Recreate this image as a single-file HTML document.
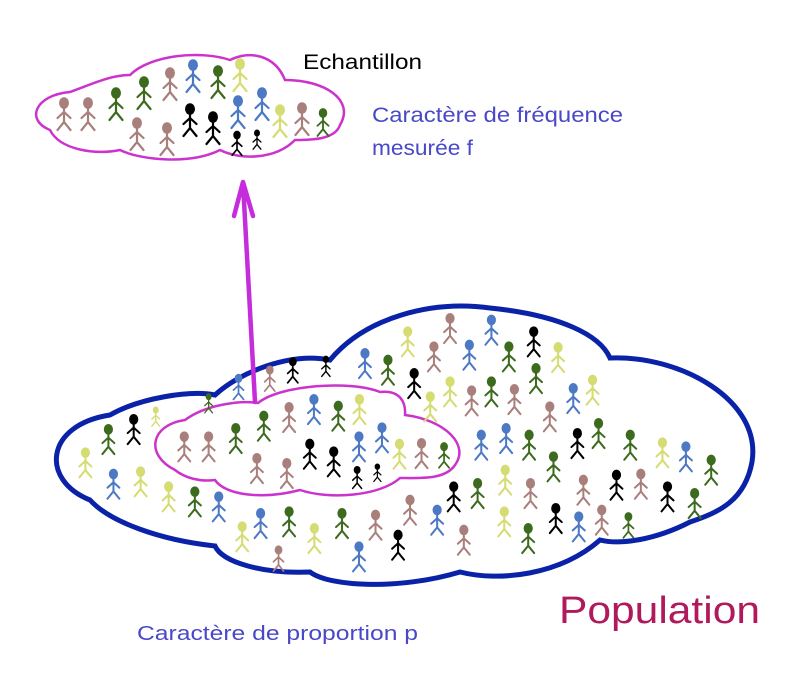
<!DOCTYPE html>
<html><head><meta charset="utf-8"><style>
html,body{margin:0;padding:0;background:#fff;width:800px;height:686px;overflow:hidden}
svg{display:block}
text{font-family:"Liberation Sans",sans-serif}
</style></head><body>
<svg width="800" height="686" viewBox="0 0 800 686" xmlns="http://www.w3.org/2000/svg">
<defs>
<g id="f" fill="currentColor" stroke="currentColor" stroke-width="2.2" stroke-linecap="round">
<ellipse cx="0" cy="0" rx="5" ry="5.8" stroke="none"/>
<path d="M0 4 L0 19 M-6.5 15 L0 9 L6.5 15 M-6.5 27 L0 19 L6.5 27" fill="none"/>
</g>
</defs>
<path d="M 90,500 C 40,480 45,425 110,415 C 140,398 190,390 215,395 C 240,372 290,352 330,360 C 365,318 430,300 490,308 C 560,315 600,335 610,358 C 680,355 762,400 752,462 C 745,500 720,512 690,522 C 655,540 620,545 600,540 C 560,575 500,582 460,572 C 400,590 330,587 310,572 C 262,574 222,562 215,546 C 160,540 110,522 90,500 Z" fill="#fff" stroke="#0a22a8" stroke-width="5"/>
<path d="M 175,470 C 145,455 150,425 185,420 C 205,405 240,400 258,403 C 280,385 350,380 380,392 C 400,390 406,402 405,415 C 445,420 470,445 455,465 C 445,480 420,478 400,478 C 380,496 330,500 300,490 C 262,500 225,495 215,480 C 200,482 185,478 175,470 Z" fill="none" stroke="#cc33cc" stroke-width="2.5"/>
<path d="M255 402 L243 183 M234 216 L243 182 L253 216" fill="none" stroke="#c42cdc" stroke-width="4.5" stroke-linecap="round" stroke-linejoin="round"/>
<path d="M 50,130 C 25,120 35,95 70,92 C 90,85 110,75 130,75 C 150,55 200,50 230,60 C 250,50 275,55 285,80 C 325,80 355,100 340,125 C 335,140 310,140 295,140 C 275,160 240,160 220,150 C 190,165 140,160 120,150 C 95,155 60,150 50,130 Z" fill="none" stroke="#cc33cc" stroke-width="2.5"/>
<g>
<use href="#f" style="color:#a97f7c" transform="translate(64,103)"/>
<use href="#f" style="color:#a97f7c" transform="translate(88,103)"/>
<use href="#f" style="color:#3d6b1e" transform="translate(116,93)"/>
<use href="#f" style="color:#3d6b1e" transform="translate(144,82)"/>
<use href="#f" style="color:#a97f7c" transform="translate(170,73)"/>
<use href="#f" style="color:#4d79c4" transform="translate(193,65)"/>
<use href="#f" style="color:#3d6b1e" transform="translate(218,71)"/>
<use href="#f" style="color:#d5dc72" transform="translate(240,64)"/>
<use href="#f" style="color:#a97f7c" transform="translate(137,123)"/>
<use href="#f" style="color:#a97f7c" transform="translate(167,128)"/>
<use href="#f" style="color:#000" transform="translate(190,109)"/>
<use href="#f" style="color:#000" transform="translate(213,117)"/>
<use href="#f" style="color:#4d79c4" transform="translate(238,101)"/>
<use href="#f" style="color:#4d79c4" transform="translate(262,93)"/>
<use href="#f" style="color:#d5dc72" transform="translate(280,110)"/>
<use href="#f" style="color:#a97f7c" transform="translate(302,108)"/>
<use href="#f" style="color:#3d6b1e" transform="translate(323,113) scale(0.85)"/>
<use href="#f" style="color:#000" transform="translate(237,135) scale(0.75)"/>
<use href="#f" style="color:#000" transform="translate(257,133) scale(0.6)"/>
</g>
<g transform="translate(50,300) scale(0.4598,0.3333)">
<use href="#f" style="color:#a97f7c" transform="translate(870,55) scale(2,2.75)"/>
<use href="#f" style="color:#4d79c4" transform="translate(960,60) scale(2,2.75)"/>
<use href="#f" style="color:#000" transform="translate(1052,95) scale(2,2.75)"/>
<use href="#f" style="color:#d5dc72" transform="translate(778,95) scale(2,2.75)"/>
<use href="#f" style="color:#d5dc72" transform="translate(1105,142) scale(2,2.75)"/>
<use href="#f" style="color:#a97f7c" transform="translate(835,140) scale(2,2.75)"/>
<use href="#f" style="color:#4d79c4" transform="translate(912,135) scale(2,2.75)"/>
<use href="#f" style="color:#3d6b1e" transform="translate(998,140) scale(2,2.75)"/>
<use href="#f" style="color:#4d79c4" transform="translate(685,160) scale(2,2.75)"/>
<use href="#f" style="color:#3d6b1e" transform="translate(735,180) scale(2,2.75)"/>
<use href="#f" style="color:#000" transform="translate(528,185) scale(1.7,2.35)"/>
<use href="#f" style="color:#000" transform="translate(600,178) scale(1.4,1.9)"/>
<use href="#f" style="color:#a97f7c" transform="translate(478,210) scale(1.7,2.35)"/>
<use href="#f" style="color:#4d79c4" transform="translate(410,235) scale(1.7,2.35)"/>
<use href="#f" style="color:#3d6b1e" transform="translate(1057,205) scale(2,2.75)"/>
<use href="#f" style="color:#000" transform="translate(792,220) scale(2,2.75)"/>
<use href="#f" style="color:#d5dc72" transform="translate(870,245) scale(2,2.75)"/>
<use href="#f" style="color:#3d6b1e" transform="translate(960,245) scale(2,2.75)"/>
<use href="#f" style="color:#d5dc72" transform="translate(1180,240) scale(2,2.75)"/>
<use href="#f" style="color:#4d79c4" transform="translate(1138,265) scale(2,2.75)"/>
<use href="#f" style="color:#a97f7c" transform="translate(917,272) scale(2,2.75)"/>
<use href="#f" style="color:#a97f7c" transform="translate(1010,268) scale(2,2.75)"/>
<use href="#f" style="color:#d5dc72" transform="translate(827,290) scale(2,2.75)"/>
<use href="#f" style="color:#a97f7c" transform="translate(1087,320) scale(2,2.75)"/>
<use href="#f" style="color:#3d6b1e" transform="translate(345,290) scale(1.3,1.8)"/>
<use href="#f" style="color:#d5dc72" transform="translate(230,330) scale(1.3,1.8)"/>
<use href="#f" style="color:#000" transform="translate(182,358) scale(2,2.75)"/>
<use href="#f" style="color:#3d6b1e" transform="translate(127,388) scale(2,2.75)"/>
<use href="#f" style="color:#d5dc72" transform="translate(77,458) scale(2,2.75)"/>
<use href="#f" style="color:#4d79c4" transform="translate(138,522) scale(2,2.75)"/>
<use href="#f" style="color:#d5dc72" transform="translate(197,515) scale(2,2.75)"/>
<use href="#f" style="color:#d5dc72" transform="translate(258,560) scale(2,2.75)"/>
<use href="#f" style="color:#3d6b1e" transform="translate(315,575) scale(2,2.75)"/>
<use href="#f" style="color:#4d79c4" transform="translate(367,590) scale(2,2.75)"/>
<use href="#f" style="color:#4d79c4" transform="translate(938,405) scale(2,2.75)"/>
<use href="#f" style="color:#4d79c4" transform="translate(992,385) scale(2,2.75)"/>
<use href="#f" style="color:#3d6b1e" transform="translate(1042,405) scale(2,2.75)"/>
<use href="#f" style="color:#000" transform="translate(1147,400) scale(2,2.75)"/>
<use href="#f" style="color:#3d6b1e" transform="translate(1193,370) scale(2,2.75)"/>
<use href="#f" style="color:#3d6b1e" transform="translate(1262,405) scale(2,2.75)"/>
<use href="#f" style="color:#d5dc72" transform="translate(1332,428) scale(2,2.75)"/>
<use href="#f" style="color:#4d79c4" transform="translate(1383,440) scale(2,2.75)"/>
<use href="#f" style="color:#3d6b1e" transform="translate(1438,480) scale(2,2.75)"/>
<use href="#f" style="color:#d5dc72" transform="translate(990,510) scale(2,2.75)"/>
<use href="#f" style="color:#3d6b1e" transform="translate(1095,470) scale(2,2.75)"/>
<use href="#f" style="color:#a97f7c" transform="translate(1160,540) scale(2,2.75)"/>
<use href="#f" style="color:#a97f7c" transform="translate(1045,550) scale(2,2.75)"/>
<use href="#f" style="color:#3d6b1e" transform="translate(930,550) scale(2,2.75)"/>
<use href="#f" style="color:#000" transform="translate(878,560) scale(2,2.75)"/>
<use href="#f" style="color:#000" transform="translate(1232,525) scale(2,2.75)"/>
<use href="#f" style="color:#a97f7c" transform="translate(1285,522) scale(2,2.75)"/>
<use href="#f" style="color:#000" transform="translate(1343,560) scale(2,2.75)"/>
<use href="#f" style="color:#3d6b1e" transform="translate(1402,580) scale(2,2.75)"/>
<use href="#f" style="color:#3d6b1e" transform="translate(1258,650) scale(1.7,2.35)"/>
<use href="#f" style="color:#a97f7c" transform="translate(1200,630) scale(2,2.75)"/>
<use href="#f" style="color:#4d79c4" transform="translate(1150,650) scale(2,2.75)"/>
<use href="#f" style="color:#000" transform="translate(1100,625) scale(2,2.75)"/>
<use href="#f" style="color:#3d6b1e" transform="translate(1040,685) scale(2,2.75)"/>
<use href="#f" style="color:#d5dc72" transform="translate(988,635) scale(2,2.75)"/>
<use href="#f" style="color:#a97f7c" transform="translate(900,690) scale(2,2.75)"/>
<use href="#f" style="color:#4d79c4" transform="translate(842,630) scale(2,2.75)"/>
<use href="#f" style="color:#a97f7c" transform="translate(783,600) scale(2,2.75)"/>
<use href="#f" style="color:#000" transform="translate(757,705) scale(2,2.75)"/>
<use href="#f" style="color:#a97f7c" transform="translate(708,645) scale(2,2.75)"/>
<use href="#f" style="color:#4d79c4" transform="translate(672,740) scale(2,2.75)"/>
<use href="#f" style="color:#3d6b1e" transform="translate(635,640) scale(2,2.75)"/>
<use href="#f" style="color:#d5dc72" transform="translate(575,685) scale(2,2.75)"/>
<use href="#f" style="color:#3d6b1e" transform="translate(520,635) scale(2,2.75)"/>
<use href="#f" style="color:#a97f7c" transform="translate(497,750) scale(1.7,2.35)"/>
<use href="#f" style="color:#4d79c4" transform="translate(458,640) scale(2,2.75)"/>
<use href="#f" style="color:#d5dc72" transform="translate(418,680) scale(2,2.75)"/>
<use href="#f" style="color:#a97f7c" transform="translate(292,410) scale(2,2.75)"/>
<use href="#f" style="color:#a97f7c" transform="translate(345,410) scale(2,2.75)"/>
<use href="#f" style="color:#3d6b1e" transform="translate(404,385) scale(2,2.75)"/>
<use href="#f" style="color:#3d6b1e" transform="translate(465,348) scale(2,2.75)"/>
<use href="#f" style="color:#a97f7c" transform="translate(520,322) scale(2,2.75)"/>
<use href="#f" style="color:#4d79c4" transform="translate(574,298) scale(2,2.75)"/>
<use href="#f" style="color:#3d6b1e" transform="translate(627,318) scale(2,2.75)"/>
<use href="#f" style="color:#d5dc72" transform="translate(673,298) scale(2,2.75)"/>
<use href="#f" style="color:#4d79c4" transform="translate(722,383) scale(2,2.75)"/>
<use href="#f" style="color:#4d79c4" transform="translate(672,410) scale(2,2.75)"/>
<use href="#f" style="color:#000" transform="translate(565,432) scale(2,2.75)"/>
<use href="#f" style="color:#000" transform="translate(617,455) scale(2,2.75)"/>
<use href="#f" style="color:#d5dc72" transform="translate(760,432) scale(2,2.75)"/>
<use href="#f" style="color:#a97f7c" transform="translate(808,430) scale(2,2.75)"/>
<use href="#f" style="color:#3d6b1e" transform="translate(857,440) scale(1.7,2.35)"/>
<use href="#f" style="color:#a97f7c" transform="translate(450,475) scale(2,2.75)"/>
<use href="#f" style="color:#a97f7c" transform="translate(515,490) scale(2,2.75)"/>
<use href="#f" style="color:#000" transform="translate(668,510) scale(1.5,2.05)"/>
<use href="#f" style="color:#000" transform="translate(712,500) scale(1.2,1.65)"/>
</g>
<text x="303" y="69" font-size="21" fill="#000" textLength="119" lengthAdjust="spacingAndGlyphs">Echantillon</text>
<text x="372" y="122" font-size="21" fill="#4848c8" textLength="251" lengthAdjust="spacingAndGlyphs">Caractère de fréquence</text>
<text x="372" y="155" font-size="21" fill="#4848c8" textLength="101" lengthAdjust="spacingAndGlyphs">mesurée f</text>
<text x="559" y="623" font-size="38" fill="#b01a5c" textLength="201" lengthAdjust="spacingAndGlyphs">Population</text>
<text x="137" y="640" font-size="20" fill="#4848c8" textLength="281" lengthAdjust="spacingAndGlyphs">Caractère de proportion p</text>
</svg>
</body></html>
